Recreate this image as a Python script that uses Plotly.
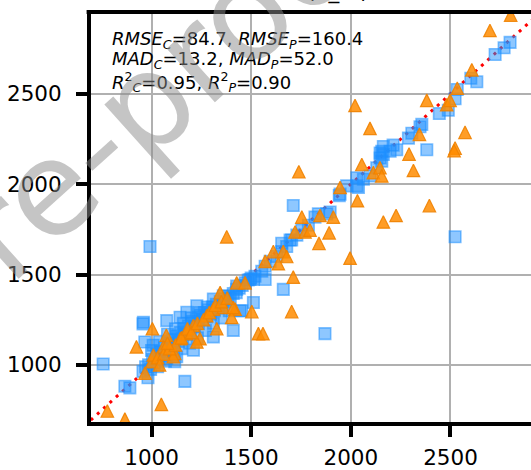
import plotly.graph_objects as go

# ---- data ----
blue_x = [2799, 2769, 2724, 2602, 2632, 2534, 2523, 2444, 2489, 2356, 2306, 2289, 2381, 2163, 2155,
          2230, 2347, 2147, 2147, 2030, 1979, 2038, 1942, 1711, 1896, 1837, 1787, 1695, 1653, 1661,
          1427, 1453, 1076, 992, 957, 966, 757, 1167, 866, 891, 1008, 1116, 2523, 1870, 2212,
          1519, 1553, 1570, 1595, 1628, 1653, 1678, 1703, 1729, 1754, 1820, 1879, 1946, 2030, 2063,
          2096, 2130, 2155, 2163, 2197, 1570, 1494,
          959, 1143, 1177, 1227, 1310, 1360, 1427, 1511, 1076, 1126, 1210, 1310, 1410, 1444, 1511,
          957, 982,
          970, 985, 995, 1005, 1015, 1025, 1035, 1045, 1055, 1065, 1075, 1085, 1095, 1105, 1115,
          1125, 1135, 1145, 1155, 1165, 1175, 1185, 1195, 1205, 1215, 1225, 1235, 1245, 1255, 1265,
          1275, 1285, 1295, 1305, 1315, 1325, 1335, 1345, 1355, 1365, 1375, 1385, 1395, 1410, 1425,
          1440, 1455, 1470, 1485, 1500,
          1000, 1040, 1080, 1120, 1160, 1200, 1240, 1280,
          1030, 1070, 1110, 1150, 1190, 1230, 1270, 1310, 1350, 1390]
blue_y = [2785, 2755, 2718, 2586, 2567, 2524, 2473, 2391, 2409, 2331, 2282, 2255, 2191, 2209, 2182,
          2191, 2318, 2145, 2173, 2036, 1991, 1982, 1937, 1882, 1846, 1836, 1773, 1691, 1673, 1418,
          1436, 1300, 1245, 1655, 1227, 1127, 1005, 909, 882, 873, 1109, 1018, 1709, 1173, 2216,
          1491, 1518, 1546, 1573, 1600, 1627, 1655, 1691, 1718, 1746, 1818, 1836, 1945, 1991, 2027,
          2046, 2091, 2127, 2164, 2182, 1473, 1473,
          1236, 1264, 1291, 1327, 1364, 1382, 1418, 1473, 1036, 1045, 1082, 1155, 1191, 1300, 1345,
          964, 929,
          990, 1000, 975, 1030, 1010, 1060, 1035, 1075, 1050, 1095, 1070, 1120, 1090, 1140, 1110,
          1160, 1130, 1180, 1150, 1200, 1170, 1215, 1190, 1240, 1210, 1255, 1230, 1275, 1250, 1290,
          1265, 1305, 1280, 1320, 1300, 1335, 1315, 1350, 1330, 1365, 1350, 1380, 1370, 1395, 1400,
          1425, 1440, 1455, 1470, 1480,
          1080, 1130, 1170, 1200, 1230, 1260, 1290, 1320,
          990, 1020, 1060, 1090, 1120, 1150, 1190, 1230, 1260, 1300]

orange_x = [2802, 2698, 2607, 2534, 2381, 2481, 2498, 2344, 2573, 2523, 2021, 2096, 2518, 2292,
            1739, 2314, 2055, 2113, 2146, 2155, 1946, 2033, 2394, 2163, 2227, 1996, 1754, 1845,
            1912, 1720, 1770, 1795, 1891, 1840, 1611, 1661, 1678, 1570, 1636, 1711, 1703, 1503,
            1377, 1427, 1469, 1344, 1419, 1402, 1536, 1559, 1004, 924, 1049, 778, 866, 1074, 1116,
            967, 1001, 1143, 1210, 1277, 1310, 1360, 1410, 1327, 1243, 1177, 1227, 1009, 1059, 1109,
            1030, 1060, 1090, 1120, 1150, 1180, 1200, 1230, 1260, 1290, 1320, 1350, 1380, 1040, 1080]
orange_y = [2936, 2851, 2633, 2531, 2464, 2440, 2464, 2276, 2287, 2200, 2436, 2309, 2185, 2167,
            2069, 2076, 2109, 2064, 2091, 2046, 1982, 1909, 1882, 1791, 1827, 1591, 1818, 1827,
            1818, 1736, 1736, 1746, 1731, 1673, 1627, 1627, 1600, 1573, 1560, 1486, 1295, 1295,
            1709, 1454, 1454, 1400, 1309, 1263, 1173, 1173, 1200, 1100, 782, 745, 700, 1164, 1064,
            955, 1018, 1145, 1218, 1273, 1309, 1318, 1318, 1200, 1145, 1173, 1127, 1055, 1100, 1045,
            1040, 1060, 1090, 1110, 1150, 1200, 1180, 1230, 1250, 1290, 1330, 1350, 1370, 1000, 1120]

ref_line = [600, 3000]
x_ticks = [1000, 1500, 2000, 2500]
y_ticks = [1000, 1500, 2000, 2500]
stats_lines = [
    "<i>RMSE</i><sub><i>C</i></sub>=84.7, <i>RMSE</i><sub><i>P</i></sub>=160.4",
    "<i>MAD</i><sub><i>C</i></sub>=13.2, <i>MAD</i><sub><i>P</i></sub>=52.0",
    "<i>R</i><sup>2</sup><sub><i>C</i></sub>=0.95, <i>R</i><sup>2</sup><sub><i>P</i></sub>=0.90",
]

FONT = "DejaVu Sans"
W, H = 531, 470
ML, MR, MT, MB = 91, 0, 12, 42
PW, PH = W - ML - MR, H - MT - MB


def px2paper(px, py):
    return (px - ML) / PW, (H - MB - py) / PH


fig = go.Figure()
fig.add_trace(go.Scatter(x=ref_line, y=ref_line, mode="lines",
                         line=dict(color="red", width=3, dash="3px,5.5px"),
                         showlegend=False, hoverinfo="skip"))
fig.add_trace(go.Scatter(x=blue_x, y=blue_y, mode="markers", showlegend=False,
                         marker=dict(symbol="square", size=11.5,
                                     color="rgba(30,144,255,0.5)",
                                     line=dict(color="rgba(30,144,255,0.55)", width=1.6))))
fig.add_trace(go.Scatter(x=orange_x, y=orange_y, mode="markers", showlegend=False,
                         marker=dict(symbol="arrow-down", angle=180, standoff=6.25, size=12.5,
                                     color="rgba(255,140,0,0.85)",
                                     line=dict(color="rgba(240,130,0,0.9)", width=1.2))))

axis_common = dict(showgrid=True, gridcolor="#b0b0b0", gridwidth=1.6, zeroline=False,
                   showline=True, linecolor="black", linewidth=4,
                   ticks="outside", ticklen=11, tickwidth=4, tickcolor="black",
                   tickfont=dict(family=FONT, size=21.5, color="black"))
fig.update_xaxes(range=[696, 2904], tickvals=x_ticks, ticktext=[str(v) for v in x_ticks],
                 ticklabelstandoff=2, **axis_common)
fig.update_yaxes(range=[684, 2953], tickvals=y_ticks, ticktext=[str(v) for v in y_ticks],
                 ticklabelstandoff=10, **axis_common)

# top spine
fig.add_shape(type="line", xref="paper", yref="paper", x0=-0.01, x1=1.0, y0=1, y1=1,
              line=dict(color="black", width=4), layer="above")

annotations = []
for txt, cy in zip(stats_lines, [40.5, 60.5, 83.5]):
    ax, ay = px2paper(110, cy)
    annotations.append(dict(text=txt, x=ax, y=ay, xref="paper", yref="paper",
                            xanchor="left", yanchor="middle", showarrow=False,
                            font=dict(family=FONT, size=18, color="black")))

# cut-off title at the very top
tx, ty = px2paper(338, 6)
annotations.append(dict(text="(T_m)", x=tx, y=ty, xref="paper", yref="paper",
                        xanchor="center", yanchor="bottom", showarrow=False,
                        font=dict(family=FONT, size=21.5, color="black")))

# watermark
wx, wy = px2paper(145, 104)
annotations.append(dict(text="Pre-proof", x=wx, y=wy, xref="paper", yref="paper",
                        xanchor="center", yanchor="middle", showarrow=False, textangle=-42,
                        font=dict(family=FONT, size=132, color="rgba(140,140,140,0.5)")))

fig.update_layout(width=W, height=H, margin=dict(l=ML, r=MR, t=MT, b=MB, pad=0),
                  paper_bgcolor="white", plot_bgcolor="white",
                  font=dict(family=FONT), annotations=annotations)

fig.write_html("out.html")
